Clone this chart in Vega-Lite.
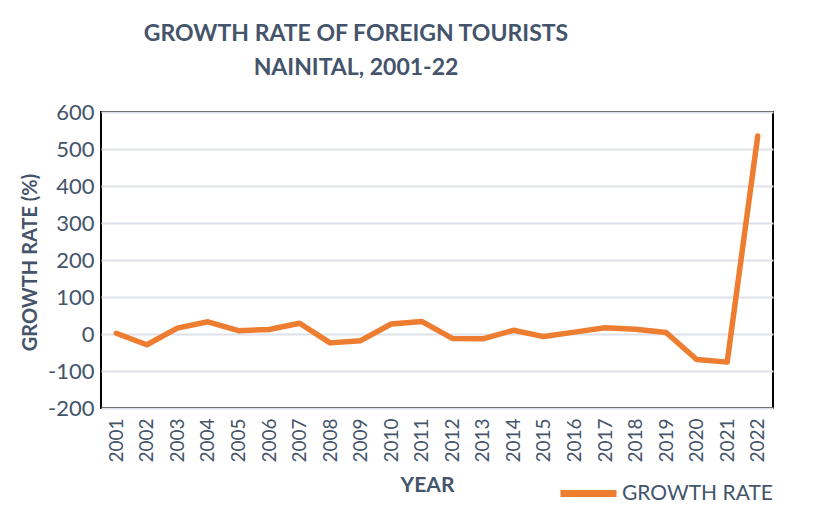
{
  "$schema": "https://vega.github.io/schema/vega-lite/v6.json",
  "width": 672,
  "height": 296,
  "autosize": {"type": "none"},
  "padding": {"left": 101, "top": 112, "right": 55, "bottom": 116},
  "background": "white",
  "title": {
    "text": ["GROWTH RATE OF FOREIGN TOURISTS", "NAINITAL, 2001-22"],
    "anchor": "middle",
    "dx": -81,
    "offset": 21,
    "font": "Lato",
    "fontSize": 23,
    "fontWeight": "bold",
    "lineHeight": 34,
    "color": "#44546A"
  },
  "data": {
    "values": [
      {"year": "2001", "rate": 2, "series": "GROWTH RATE"},
      {"year": "2002", "rate": -29, "series": "GROWTH RATE"},
      {"year": "2003", "rate": 16, "series": "GROWTH RATE"},
      {"year": "2004", "rate": 33, "series": "GROWTH RATE"},
      {"year": "2005", "rate": 9, "series": "GROWTH RATE"},
      {"year": "2006", "rate": 12, "series": "GROWTH RATE"},
      {"year": "2007", "rate": 29, "series": "GROWTH RATE"},
      {"year": "2008", "rate": -24, "series": "GROWTH RATE"},
      {"year": "2009", "rate": -18, "series": "GROWTH RATE"},
      {"year": "2010", "rate": 27, "series": "GROWTH RATE"},
      {"year": "2011", "rate": 34, "series": "GROWTH RATE"},
      {"year": "2012", "rate": -12, "series": "GROWTH RATE"},
      {"year": "2013", "rate": -13, "series": "GROWTH RATE"},
      {"year": "2014", "rate": 10, "series": "GROWTH RATE"},
      {"year": "2015", "rate": -7, "series": "GROWTH RATE"},
      {"year": "2016", "rate": 5, "series": "GROWTH RATE"},
      {"year": "2017", "rate": 17, "series": "GROWTH RATE"},
      {"year": "2018", "rate": 13, "series": "GROWTH RATE"},
      {"year": "2019", "rate": 4, "series": "GROWTH RATE"},
      {"year": "2020", "rate": -69, "series": "GROWTH RATE"},
      {"year": "2021", "rate": -76, "series": "GROWTH RATE"},
      {"year": "2022", "rate": 535, "series": "GROWTH RATE"}
    ]
  },
  "mark": {"type": "line", "strokeWidth": 5.5, "strokeCap": "round", "strokeJoin": "round"},
  "encoding": {
    "x": {
      "field": "year",
      "type": "ordinal",
      "scale": {"type": "point", "padding": 0.5},
      "axis": {
        "title": "YEAR",
        "titleFont": "Lato",
        "titleFontSize": 21,
        "titleFontWeight": "bold",
        "titleColor": "#44546A",
        "titleX": 326,
        "titleY": 77,
        "titleBaseline": "middle",
        "labelAngle": 270,
        "labelAlign": "right",
        "labelBaseline": "middle",
        "labelFont": "Lato",
        "labelFontSize": 19,
        "labelColor": "#44546A",
        "labelPadding": 10,
        "ticks": false,
        "domain": false,
        "grid": false
      }
    },
    "y": {
      "field": "rate",
      "type": "quantitative",
      "scale": {"domain": [-200, 600], "nice": false, "zero": false},
      "axis": {
        "title": "GROWTH RATE (%)",
        "titleFont": "Lato",
        "titleFontSize": 20,
        "titleFontWeight": "bold",
        "titleColor": "#44546A",
        "titleAngle": 270,
        "titleX": -71,
        "titleY": 150,
        "titleAlign": "center",
        "titleBaseline": "middle",
        "values": [-200, -100, 0, 100, 200, 300, 400, 500, 600],
        "labelExpr": "replace(datum.label, '\u2212', '-')",
        "labelFont": "Lato",
        "labelFontSize": 22,
        "labelColor": "#44546A",
        "labelPadding": 7,
        "ticks": false,
        "domain": false,
        "grid": true,
        "gridColor": "#DDE2EA",
        "gridWidth": 2
      }
    },
    "color": {
      "field": "series",
      "type": "nominal",
      "scale": {"range": ["#ED7D31"]},
      "legend": {
        "title": null,
        "orient": "none",
        "legendX": 456,
        "legendY": 350,
        "symbolType": "stroke",
        "symbolSize": 3136,
        "symbolStrokeWidth": 7,
        "labelFont": "Lato",
        "labelFontSize": 21,
        "labelColor": "#44546A",
        "labelOffset": 2
      }
    }
  },
  "config": {
    "view": {"stroke": "#000000", "strokeWidth": 2}
  }
}
